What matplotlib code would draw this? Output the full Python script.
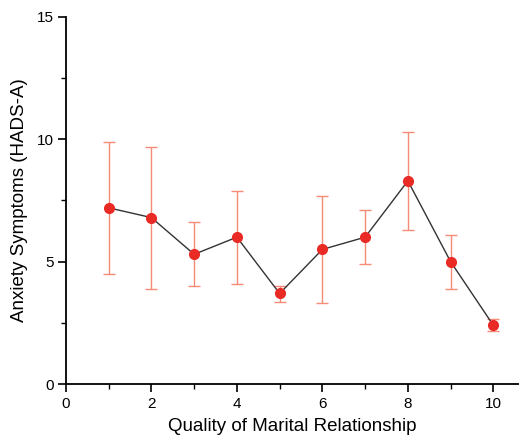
import matplotlib
matplotlib.use("Agg")
import matplotlib.pyplot as plt
from matplotlib.ticker import MultipleLocator

plt.rcParams['font.family'] = ['Liberation Sans', 'DejaVu Sans']

quality = [1, 2, 3, 4, 5, 6, 7, 8, 9, 10]
anxiety = [7.2, 6.8, 5.3, 6.0, 3.7, 5.5, 6.0, 8.3, 5.0, 2.4]
err_upper = [9.9, 9.7, 6.6, 7.9, 4.0, 7.7, 7.1, 10.3, 6.1, 2.65]
err_lower = [4.5, 3.9, 4.0, 4.1, 3.35, 3.3, 4.9, 6.3, 3.9, 2.15]

lower = [a - l for a, l in zip(anxiety, err_lower)]
upper = [u - a for a, u in zip(anxiety, err_upper)]

fig = plt.figure(figsize=(5.19, 4.43), dpi=100)
ax = fig.add_axes([0.127, 0.133, 0.873, 0.829])

ax.errorbar(quality, anxiety, yerr=[lower, upper], fmt='none',
            ecolor='#f58a76', elinewidth=1.0, capsize=4, capthick=1.0, zorder=2)
ax.plot(quality, anxiety, color='#333333', linewidth=1.0, zorder=3)
ax.plot(quality, anxiety, 'o', color='#ea2a24', markersize=7, zorder=4)

ax.set_xlim(0, 10.6)
ax.set_ylim(0, 15)
ax.xaxis.set_major_locator(MultipleLocator(2))
ax.xaxis.set_minor_locator(MultipleLocator(1))
ax.yaxis.set_major_locator(MultipleLocator(5))
ax.yaxis.set_minor_locator(MultipleLocator(2.5))
ax.tick_params(which='major', direction='out', length=6, width=1.2, labelsize=11, pad=3)
ax.tick_params(which='minor', direction='out', length=3.5, width=1.0)
ax.spines['top'].set_visible(False)
ax.spines['right'].set_visible(False)
ax.spines['left'].set_linewidth(1.3)
ax.spines['bottom'].set_linewidth(1.3)

ax.set_xlabel('Quality of Marital Relationship', fontsize=13.5, labelpad=5)
ax.set_ylabel('Anxiety Symptoms (HADS-A)', fontsize=13.5, labelpad=6)

fig.savefig('out.png', dpi=100)
